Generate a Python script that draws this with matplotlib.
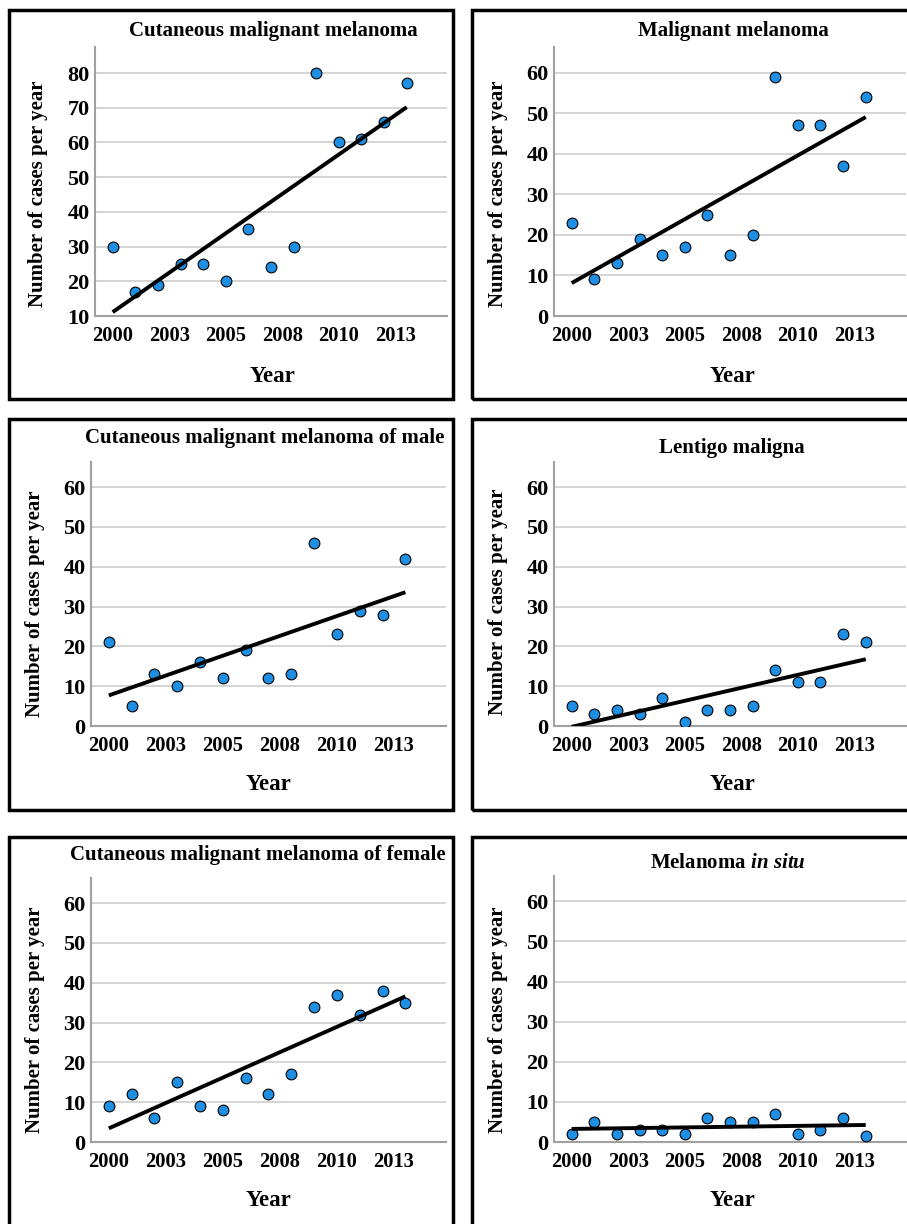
import numpy as np
import matplotlib
matplotlib.use("Agg")
import matplotlib.pyplot as plt
from matplotlib.patches import Rectangle

# data
years = np.arange(2000, 2014)
tick_pos = [2000, 2002.5, 2005, 2007.5, 2010, 2012.5]
tick_labels = ["2000", "2003", "2005", "2008", "2010", "2013"]

cmm_all = [30, 17, 19, 25, 25, 20, 35, 24, 30, 80, 60, 61, 66, 77]
mm_all = [23, 9, 13, 19, 15, 17, 25, 15, 20, 59, 47, 47, 37, 54]
cmm_male = [21, 5, 13, 10, 16, 12, 19, 12, 13, 46, 23, 29, 28, 42]
lentigo = [5, 3, 4, 3, 7, 1, 4, 4, 5, 14, 11, 11, 23, 21]
cmm_female = [9, 12, 6, 15, 9, 8, 16, 12, 17, 34, 37, 32, 38, 35]
in_situ = [2, 5, 2, 3, 3, 2, 6, 5, 5, 7, 2, 3, 6, 1.5]

titles = ["Cutaneous malignant melanoma", "Malignant melanoma",
          "Cutaneous malignant melanoma of male", "Lentigo maligna",
          "Cutaneous malignant melanoma of female", r"Melanoma $\mathit{in\ situ}$"]
series = [cmm_all, mm_all, cmm_male, lentigo, cmm_female, in_situ]

plt.rcParams["font.family"] = ["Liberation Serif", "DejaVu Serif"]
plt.rcParams["font.weight"] = "bold"
plt.rcParams["axes.labelweight"] = "bold"
plt.rcParams["axes.titleweight"] = "bold"
plt.rcParams["mathtext.fontset"] = "custom"
plt.rcParams["mathtext.rm"] = "Liberation Serif:bold"
plt.rcParams["mathtext.it"] = "Liberation Serif:italic:bold"

W, H = 907, 1224
fig = plt.figure(figsize=(W / 100, H / 100), dpi=100)

# pixel layout: axes (left, top, right, bottom), box, title, ylabel, xlabel centers
axes_px = [(95, 47, 447, 316), (554, 47, 906, 316),
           (91, 462, 446, 726), (554, 462, 906, 726),
           (91, 878, 446, 1142), (554, 876, 906, 1142)]
boxes_px = [(9, 10, 453, 399), (472, 10, 915, 399),
            (9, 419, 453, 810), (472, 419, 915, 810),
            (9, 837, 453, 1232), (472, 837, 915, 1232)]
title_px = [(273, 31), (733, 31), (265, 438), (732, 448), (258, 855), (728, 863)]
ylab_px = [(38, 194), (498, 194), (35, 604), (498, 602), (35, 1020), (498, 1020)]
xlab_px = [(272, 376), (732, 376), (268, 784), (732, 784), (268, 1201), (732, 1201)]

for b in boxes_px:
    fig.patches.append(Rectangle((b[0] / W, 1 - b[3] / H), (b[2] - b[0]) / W, (b[3] - b[1]) / H,
                                 transform=fig.transFigure, fill=False, lw=2.5, ec="black"))

def frac(ax_px, p):
    l, t, r, b = ax_px
    return (p[0] - l) / (r - l), (b - p[1]) / (b - t)

for i in range(6):
    l, t, r, b = axes_px[i]
    ax = fig.add_axes([l / W, 1 - b / H, (r - l) / W, (b - t) / H])
    vals = np.array(series[i], dtype=float)

    ax.scatter(years, vals, s=60, color="#1f8fe3", edgecolors="black", linewidths=0.8, zorder=3)
    k, c = np.polyfit(years, vals, 1)
    ax.plot([years[0], years[-1]], [k * years[0] + c, k * years[-1] + c],
            color="black", lw=2.8, solid_capstyle="butt", zorder=4)

    ax.set_xlim(1999.22, 2014.78)
    if i == 0:
        ax.set_ylim(10, 87.5)
        ax.set_yticks(range(10, 81, 10))
    else:
        ax.set_ylim(0, 66.3)
        ax.set_yticks(range(0, 61, 10))
    ax.set_xticks(tick_pos, labels=tick_labels)

    ax.yaxis.grid(True, color="#d4d4d4", lw=1.4)
    ax.set_axisbelow(True)
    for s in ["top", "right"]:
        ax.spines[s].set_visible(False)
    for s in ["left", "bottom"]:
        ax.spines[s].set_color("#a0a0a0")
        ax.spines[s].set_linewidth(1.5)
    ax.tick_params(length=0)
    ax.tick_params(axis="x", pad=7, labelsize=14.8)
    ax.tick_params(axis="y", pad=4, labelsize=16)

    tx, ty = frac(axes_px[i], title_px[i])
    ax.set_title(titles[i], x=tx, y=ty, va="center", fontsize=15, fontweight="bold", pad=0)
    ax.set_ylabel("Number of cases per year", fontsize=15, fontweight="bold", va="center")
    ax.yaxis.set_label_coords(*frac(axes_px[i], ylab_px[i]))
    ax.set_xlabel("Year", fontsize=16.5, fontweight="bold", va="center")
    ax.xaxis.set_label_coords(*frac(axes_px[i], xlab_px[i]))

fig.savefig("out.png", dpi=100)
